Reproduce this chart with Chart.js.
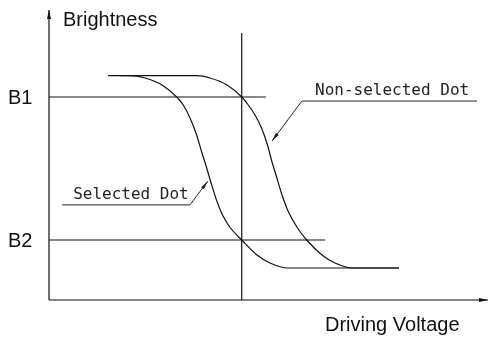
<!DOCTYPE html>
<html>
<head>
<meta charset="utf-8">
<script src="https://cdn.jsdelivr.net/npm/chart.js@4.4.1/dist/chart.umd.min.js"></script>
<style>
  html, body { margin: 0; padding: 0; background: #fff; }
  canvas { display: block; }
</style>
</head>
<body>
<canvas id="grafico" width="491" height="338"></canvas>
<script>
// Curvas (voltaje 0-100, brillo 0-100)
const selX = [13.44, 18.45, 21.87, 25.74, 29.09, 30.59, 32.12, 33.64, 34.78, 35.92, 37.06, 38.31, 39.52, 41.34, 43.90, 47.38, 50.34, 54.44, 79.73];
const selY = [77.34, 77.34, 76.55, 74.14, 70.0, 67.24, 62.76, 56.90, 51.03, 45.52, 39.66, 33.79, 29.31, 24.83, 20.69, 15.52, 12.76, 11.03, 11.03];

const nonSelX = [16.17, 33.71, 36.67, 40.55, 43.90, 45.40, 46.92, 48.41, 49.77, 50.80, 51.71, 53.08, 54.56, 56.61, 58.70, 62.19, 65.15, 69.25, 79.73];
const nonSelY = [77.34, 77.34, 76.55, 74.14, 70.0, 67.24, 63.79, 59.31, 53.45, 47.59, 43.10, 36.21, 30.34, 24.83, 20.69, 15.52, 12.76, 11.03, 11.03];

// Niveles de brillo y voltaje de referencia
const levelNames = ['B1', 'B2'];
const levelValues = [70.0, 20.69];
const levelEnds = [49.4, 62.9];
const refVoltage = 43.9;
const refTop = 92.1;

const axisTitles = ['Driving Voltage', 'Brightness'];
const curveNames = ['Selected Dot', 'Non-selected Dot'];

function toPoints(xs, ys) {
    return xs.map((x, i) => ({ x, y: ys[i] }));
}

const lineStyle = {
    borderColor: '#111',
    borderWidth: 1.2,
    pointRadius: 0,
    fill: false
};

const datasets = [
    { ...lineStyle, label: curveNames[0], data: toPoints(selX, selY), cubicInterpolationMode: 'monotone' },
    { ...lineStyle, label: curveNames[1], data: toPoints(nonSelX, nonSelY), cubicInterpolationMode: 'monotone' },
    { ...lineStyle, label: 'V', data: [{ x: refVoltage, y: 0 }, { x: refVoltage, y: refTop }], tension: 0 }
];
levelNames.forEach((nombre, i) => {
    datasets.push({ ...lineStyle, label: nombre, data: [{ x: 0, y: levelValues[i] }, { x: levelEnds[i], y: levelValues[i] }], tension: 0 });
});

function flecha(ctx, x1, y1, x2, y2, largo, ancho) {
    const ang = Math.atan2(y2 - y1, x2 - x1);
    ctx.save();
    ctx.translate(x2, y2);
    ctx.rotate(ang);
    ctx.beginPath();
    ctx.moveTo(0, 0);
    ctx.lineTo(-largo, ancho / 2);
    ctx.lineTo(-largo, -ancho / 2);
    ctx.closePath();
    ctx.fill();
    ctx.restore();
}

const dibujo = {
    id: 'dibujo',
    afterDatasetsDraw(chart) {
        const { ctx, scales: { x, y } } = chart;
        const px = v => x.getPixelForValue(v);
        const py = v => y.getPixelForValue(v);

        ctx.save();
        ctx.strokeStyle = '#111';
        ctx.fillStyle = '#111';
        ctx.lineWidth = 1.2;

        // ejes con flechas
        const x0 = px(0), y0 = py(0);
        ctx.beginPath();
        ctx.moveTo(x0, y0);
        ctx.lineTo(x0, py(100));
        ctx.moveTo(x0, y0);
        ctx.lineTo(px(100), y0);
        ctx.stroke();
        flecha(ctx, x0, y0, x0, py(100), 9, 4);
        flecha(ctx, x0, y0, px(100), y0, 9, 4);

        // títulos de ejes
        ctx.font = '20px "Liberation Sans", Arial, sans-serif';
        ctx.textBaseline = 'alphabetic';
        ctx.textAlign = 'left';
        ctx.fillText(axisTitles[1], x0 + 14, 26);
        ctx.fillText(axisTitles[0], 325, 331);

        // B1, B2
        levelNames.forEach((nombre, i) => {
            ctx.fillText(nombre, 8, py(levelValues[i]) + 7);
        });

        // rótulos de las curvas con línea guía
        ctx.font = '16px "DejaVu Sans Mono", monospace';
        ctx.lineWidth = 1;
        ctx.strokeStyle = '#222';
        ctx.fillStyle = '#222';

        // Non-selected Dot
        ctx.fillText(curveNames[1], px(60.6), py(70.7));
        ctx.beginPath();
        ctx.moveTo(px(97.5), py(68.6));
        ctx.lineTo(px(57.6), py(68.6));
        ctx.lineTo(px(50.8), py(54.8));
        ctx.stroke();
        flecha(ctx, px(57.6), py(68.6), px(50.8), py(54.8), 9, 3.5);

        // Selected Dot
        ctx.fillText(curveNames[0], px(5.5), py(34.8));
        ctx.beginPath();
        ctx.moveTo(px(3.0), py(32.8));
        ctx.lineTo(px(32.1), py(32.8));
        ctx.lineTo(px(36.2), py(41.0));
        ctx.stroke();
        flecha(ctx, px(32.1), py(32.8), px(36.2), py(41.0), 9, 3.5);

        ctx.restore();
    }
};

new Chart(document.getElementById('grafico'), {
    type: 'line',
    data: { datasets },
    options: {
        responsive: false,
        animation: false,
        devicePixelRatio: 1,
        layout: { padding: { left: 49, top: 10, right: 3, bottom: 38 } },
        scales: {
            x: { type: 'linear', min: 0, max: 100, display: false },
            y: { type: 'linear', min: 0, max: 100, display: false }
        },
        plugins: {
            legend: { display: false },
            tooltip: { enabled: false }
        }
    },
    plugins: [dibujo]
});
</script>
</body>
</html>
